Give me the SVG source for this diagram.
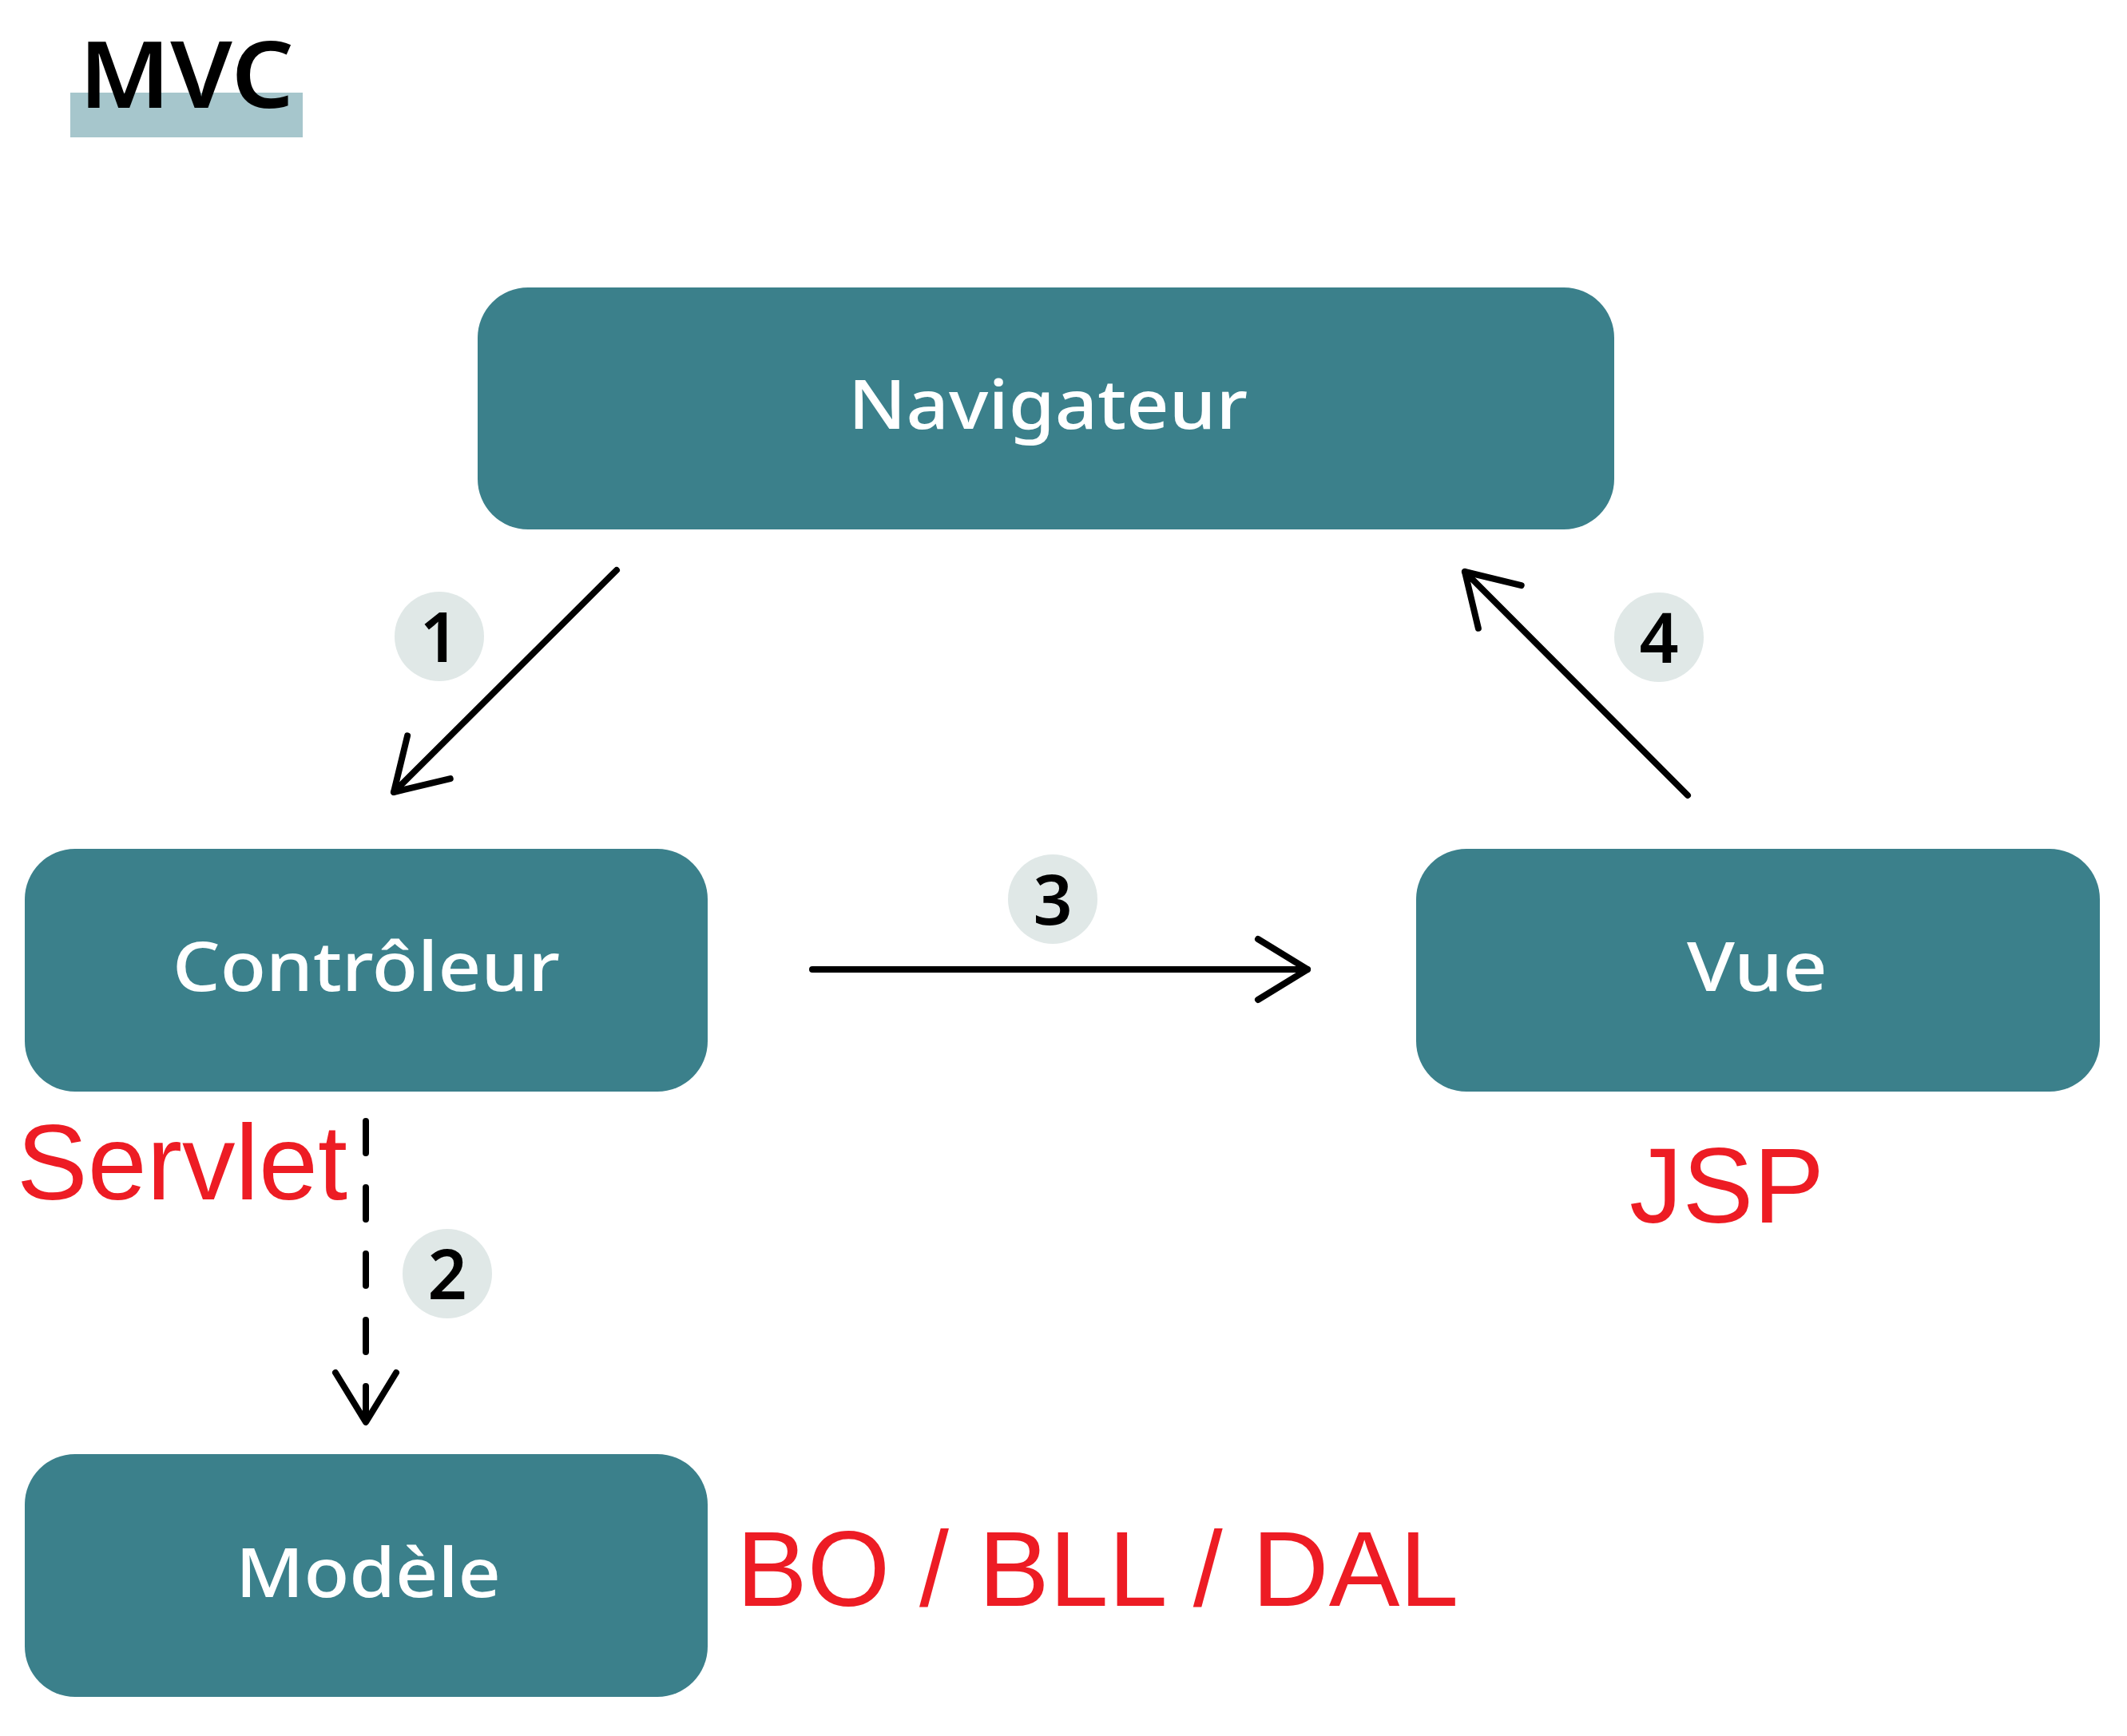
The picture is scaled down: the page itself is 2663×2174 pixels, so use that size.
<svg xmlns="http://www.w3.org/2000/svg" width="2663" height="2174" viewBox="0 0 2663 2174">
<style>
.box{fill:#3B808B}
.lbl{font-family:"Noto Sans","Open Sans",sans-serif;font-weight:500;font-size:86px;fill:#ffffff}
.red{font-family:"Liberation Sans",Arial,sans-serif;font-size:133px;fill:#ED1C24}
.badge{fill:#E0E8E7}
.num{font-family:"Noto Sans","Open Sans",sans-serif;font-weight:600;font-size:86px;fill:#000000;text-anchor:middle}
.conn{stroke:#000;stroke-width:8;fill:none;stroke-linecap:round;stroke-linejoin:round}
.head{stroke:#000;stroke-width:8;fill:none;stroke-linecap:round;stroke-linejoin:round;stroke-dasharray:none}
</style>
<defs>
<marker id="arr" markerUnits="userSpaceOnUse" viewBox="-70 -46 78 92" refX="0" refY="0" markerWidth="78" markerHeight="92" orient="auto">
<path class="head" d="M-62,-38 L0,0 L-62,38"/>
</marker>
</defs>
<rect width="2663" height="2174" fill="#ffffff"/>
<g id="title">
<rect x="88" y="116" width="291" height="56" fill="#A6C6CC"/>
<text x="99" y="135" font-family="Noto Sans, Open Sans, sans-serif" font-weight="600" font-size="116" fill="#000" textLength="269" lengthAdjust="spacingAndGlyphs">MVC</text>
</g>
<g id="connectors">
<line class="conn" x1="772" y1="714" x2="493" y2="992" marker-end="url(#arr)"/>
<line class="conn" x1="458" y1="1404" x2="458" y2="1781" stroke-dasharray="40 43" marker-end="url(#arr)"/>
<line class="conn" x1="1017" y1="1214" x2="1637" y2="1214" marker-end="url(#arr)"/>
<line class="conn" x1="2113" y1="996" x2="1834" y2="716" marker-end="url(#arr)"/>
</g>
<g id="badges">
<g id="badge1"><circle class="badge" cx="550" cy="797" r="56"/><text class="num" x="550" y="829">1</text></g>
<g id="badge2"><circle class="badge" cx="560" cy="1595" r="56"/><text class="num" x="560" y="1627">2</text></g>
<g id="badge3"><circle class="badge" cx="1318" cy="1126" r="56"/><text class="num" x="1318" y="1158">3</text></g>
<g id="badge4"><circle class="badge" cx="2077" cy="798" r="56"/><text class="num" x="2077" y="830">4</text></g>
</g>
<g id="navigateur">
<rect class="box" x="598" y="360" width="1423" height="303" rx="63"/>
<text class="lbl" x="1062" y="537" textLength="500" lengthAdjust="spacingAndGlyphs">Navigateur</text>
</g>
<g id="controleur">
<rect class="box" x="31" y="1063" width="855" height="304" rx="63"/>
<text class="lbl" x="216" y="1241" textLength="485" lengthAdjust="spacingAndGlyphs">Contrôleur</text>
</g>
<g id="vue">
<rect class="box" x="1773" y="1063" width="856" height="304" rx="63"/>
<text class="lbl" x="2112" y="1241" textLength="176" lengthAdjust="spacingAndGlyphs">Vue</text>
</g>
<g id="modele">
<rect class="box" x="31" y="1821" width="855" height="304" rx="63"/>
<text class="lbl" x="295" y="2000" textLength="332" lengthAdjust="spacingAndGlyphs">Modèle</text>
</g>
<g id="annotations">
<text class="red" x="21" y="1502">Servlet</text>
<text class="red" x="2040" y="1531">JSP</text>
<text class="red" x="922" y="2011">BO / BLL / DAL</text>
</g>
</svg>
